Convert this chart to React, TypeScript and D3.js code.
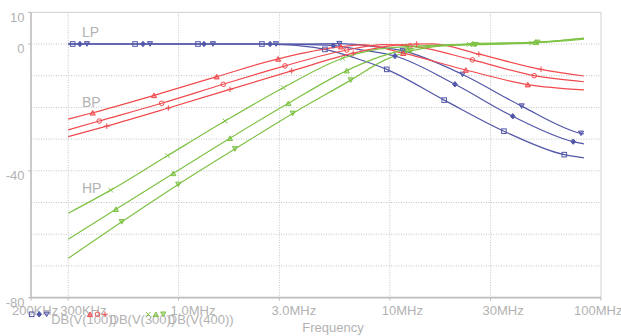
import React from 'react';
import * as d3 from 'd3';

// Axis ticks
const X_TICKS = [0.2, 0.3, 1, 3, 10, 30, 100];
const X_LABELS = ['200KHz', '300KHz', '1.0MHz', '3.0MHz', '10MHz', '30MHz', '100MHz'];
const X_GRID = [0.3, 1, 3, 10, 30];
const Y_GRID = [0, -10, -20, -30, -40, -50, -60, -70];
const Y_TICKS = [10, 0, -40, -80];
const Y_LABELS = ['10', '0', '-40', '-80'];

// DB(V(100)) — low pass, three runs [MHz, dB]
const LP_RUN1: [number, number][] = [[0.3, 0], [0.62, 0], [1.24, 0], [2.48, 0], [3.0, -0.2], [3.76, -0.6], [4.93, -1.7], [6.84, -4.4], [9.67, -8.0], [18.1, -17.7], [34.7, -27.5], [67, -34.9], [83, -35.9]];
const LP_RUN2: [number, number][] = [[0.3, 0], [2.48, 0], [3.76, -0.1], [5.4, -0.5], [7.23, -1.8], [10.58, -3.8], [20.35, -12.7], [38.2, -22.8], [73.9, -30.8], [83, -31.5]];
const LP_RUN3: [number, number][] = [[0.3, 0], [3.76, 0], [5.77, 0.1], [8.0, -0.6], [11.5, -2.1], [22.1, -9.6], [42.1, -19.6], [80.4, -28.2], [83, -28.4]];

// DB(V(300)) — band pass
const BP_RUN1: [number, number][] = [[0.3, -23.7], [0.392, -21.7], [0.765, -16.2], [1.514, -10.3], [2.96, -4.7], [5.87, -0.85], [7.5, -0.25], [11.58, -2.9], [22.9, -8.2], [45, -12.8], [83, -14.5]];
const BP_RUN2: [number, number][] = [[0.3, -27.1], [0.421, -24.3], [0.831, -18.7], [1.627, -12.7], [3.19, -6.9], [6.25, -1.9], [9.3, -0.2], [12.46, -0.6], [24.6, -5.0], [48.3, -10.0], [83, -11.9]];
const BP_RUN3: [number, number][] = [[0.3, -29.2], [0.457, -25.9], [0.894, -20.2], [1.751, -14.3], [3.43, -8.5], [6.71, -2.9], [10, -0.6], [13.4, 0], [16, 0.05], [26.4, -3.2], [52, -8.0], [83, -10.1]];

// DB(V(400)) — high pass
const HP_RUN1: [number, number][] = [[0.3, -53.4], [0.477, -46.1], [0.888, -35.2], [1.658, -24.3], [3.13, -13.8], [5.98, -4.5], [8.5, -1.8], [11.93, -0.85], [23.8, -0.1], [47, 0.3], [83, 1.5]];
const HP_RUN2: [number, number][] = [[0.3, -61.6], [0.505, -52.1], [0.944, -40.8], [1.751, -29.7], [3.31, -18.7], [6.25, -8.4], [9, -4.0], [12.19, -1.6], [18, -0.4], [24.7, 0.1], [49.2, 0.6], [83, 1.8]];
const HP_RUN3: [number, number][] = [[0.3, -67.6], [0.538, -56.1], [0.996, -44.3], [1.849, -33.1], [3.47, -21.9], [6.53, -11.4], [9.5, -5.0], [12.56, -2.2], [18, -0.6], [26, -0.2], [50, 0.5], [83, 1.9]];

// Marker frequencies (MHz) along each run
const LP_MARKS1 = [0.315, 0.622, 1.235, 2.48, 4.93, 9.67, 18.1, 34.7, 67.0];
const LP_MARKS2 = [0.341, 0.678, 1.319, 2.71, 5.4, 10.58, 20.35, 38.2, 73.9];
const LP_MARKS3 = [0.368, 0.732, 1.454, 2.89, 5.77, 11.5, 22.1, 42.1, 80.4];
const BP_MARKS1 = [0.392, 0.765, 1.514, 2.96, 5.87, 11.58, 22.9, 45.0];
const BP_MARKS2 = [0.421, 0.831, 1.627, 3.19, 6.25, 12.46, 24.6, 48.3];
const BP_MARKS3 = [0.457, 0.894, 1.751, 3.43, 6.71, 13.4, 26.4, 52.0];
const HP_MARKS1 = [0.477, 0.888, 1.658, 3.13, 5.98, 11.93, 23.8, 47.0];
const HP_MARKS2 = [0.505, 0.944, 1.751, 3.31, 6.25, 12.19, 24.7, 49.2];
const HP_MARKS3 = [0.538, 0.996, 1.849, 3.47, 6.53, 12.56, 25.5, 50.0];

const LEGEND_NAMES = ['DB(V(100))', 'DB(V(300))', 'DB(V(400))'];
const CURVE_LABELS = ['LP', 'BP', 'HP'];
const CURVE_LABEL_DB = [2.3, -20, -47];

const BLUE = '#5256a8';
const RED = '#f04a4e';
const GREEN = '#7ec244';
const GRAY = '#b2b2b2';
const FONT = '"Liberation Sans", Arial, sans-serif';

type Shape = 'square' | 'diamond' | 'tdown' | 'tup' | 'circle' | 'plus' | 'x';

const groups = [
  { color: BLUE, runs: [LP_RUN1, LP_RUN2, LP_RUN3], marks: [LP_MARKS1, LP_MARKS2, LP_MARKS3], shapes: ['square', 'diamond', 'tdown'] as Shape[] },
  { color: RED, runs: [BP_RUN1, BP_RUN2, BP_RUN3], marks: [BP_MARKS1, BP_MARKS2, BP_MARKS3], shapes: ['tup', 'circle', 'plus'] as Shape[] },
  { color: GREEN, runs: [HP_RUN1, HP_RUN2, HP_RUN3], marks: [HP_MARKS1, HP_MARKS2, HP_MARKS3], shapes: ['x', 'tup', 'tdown'] as Shape[] },
];

function Marker({ shape, cx, cy, color }: { shape: Shape; cx: number; cy: number; color: string }) {
  const r = 2.3;
  const common = { stroke: color, strokeWidth: 1, fill: 'none' };
  switch (shape) {
    case 'square':
      return <rect x={cx - r} y={cy - r} width={2 * r} height={2 * r} {...common} />;
    case 'diamond':
      return <path d={`M${cx},${cy - r - 0.4}L${cx + r},${cy}L${cx},${cy + r + 0.4}L${cx - r},${cy}Z`} stroke={color} strokeWidth={1} fill={color} />;
    case 'tdown':
      return <path d={`M${cx - r - 0.3},${cy - r}L${cx + r + 0.3},${cy - r}L${cx},${cy + r}Z`} stroke={color} strokeWidth={1} fill={color} fillOpacity={0.5} />;
    case 'tup':
      return <path d={`M${cx - r - 0.3},${cy + r}L${cx + r + 0.3},${cy + r}L${cx},${cy - r}Z`} stroke={color} strokeWidth={1} fill={color} fillOpacity={0.5} />;
    case 'circle':
      return <circle cx={cx} cy={cy} r={r} {...common} />;
    case 'plus':
      return <path d={`M${cx - r - 0.5},${cy}H${cx + r + 0.5}M${cx},${cy - r - 0.5}V${cy + r + 0.5}`} {...common} />;
    case 'x':
      return <path d={`M${cx - r},${cy - r}L${cx + r},${cy + r}M${cx + r},${cy - r}L${cx - r},${cy + r}`} {...common} />;
  }
  return null;
}

export default function App() {
  const W = 621, H = 336;
  const left = 31, right = 601, top = 12.3, bottom = 297.6;
  const x = d3.scaleLog().domain([0.2, 100]).range([left, right]);
  const y = d3.scaleLinear().domain([-80, 10]).range([bottom, top]);
  const line = d3.line<[number, number]>().x(d => x(d[0])).y(d => y(d[1])).curve(d3.curveMonotoneX);

  const labelDx = (i: number) => (i === 0 ? -19 : i === X_TICKS.length - 1 ? -27 : -8);

  return (
    <div style={{ position: 'absolute', left: 0, top: 0 }}>
      <svg width={W} height={H} style={{ display: 'block', background: '#fff' }} fontFamily={FONT}>
        {/* grid */}
        {Y_GRID.map(v => (
          <line key={'gy' + v} x1={left} x2={right} y1={y(v)} y2={y(v)} stroke="#c4c4c4" strokeWidth={1} strokeDasharray="1,1.5" />
        ))}
        {X_GRID.map(v => (
          <line key={'gx' + v} x1={x(v)} x2={x(v)} y1={top} y2={bottom} stroke="#c4c4c4" strokeWidth={1} strokeDasharray="1,1.5" />
        ))}
        {/* frame */}
        <line x1={left} x2={right} y1={top} y2={top} stroke="#cfcfcf" strokeWidth={1} />
        <line x1={right} x2={right} y1={top} y2={bottom} stroke="#cfcfcf" strokeWidth={1} />
        <line x1={left} x2={left} y1={top} y2={bottom + 1} stroke="#bdbdbd" strokeWidth={1.6} />
        <line x1={left} x2={right} y1={bottom} y2={bottom} stroke="#bdbdbd" strokeWidth={1.6} />
        {Y_TICKS.map(v => (
          <line key={'ty' + v} x1={left - 3} x2={left} y1={y(v)} y2={y(v)} stroke="#bdbdbd" strokeWidth={1} />
        ))}
        {X_TICKS.map(v => (
          <line key={'tx' + v} x1={x(v)} x2={x(v)} y1={bottom} y2={bottom + 3} stroke="#bdbdbd" strokeWidth={1} />
        ))}
        {/* y labels */}
        {Y_TICKS.map((v, i) => (
          <text key={'ly' + v} x={24.5} y={y(v) + 9.3} textAnchor="end" fontSize={13} fill={GRAY}>{Y_LABELS[i]}</text>
        ))}
        {/* x labels */}
        {X_TICKS.map((v, i) => (
          <text key={'lx' + v} x={x(v) + labelDx(i)} y={315} fontSize={13} fill={GRAY}>{X_LABELS[i]}</text>
        ))}
        <text x={(left + right) / 2 + 17} y={331.5} textAnchor="middle" fontSize={13} fill={GRAY}>Frequency</text>

        {/* curves */}
        {groups.map((g, gi) => (
          <g key={'g' + gi}>
            {g.runs.map((run, ri) => (
              <path key={'p' + ri} d={line(run) || ''} fill="none" stroke={g.color} strokeWidth={1.2} />
            ))}
          </g>
        ))}
        {groups.map((g, gi) => (
          <g key={'m' + gi}>
            {g.runs.map((run, ri) => {
              const interp = d3.scaleLinear().domain(run.map(p => Math.log10(p[0]))).range(run.map(p => p[1]));
              return g.marks[ri].map((f, k) => (
                <Marker key={ri + '-' + k} shape={g.shapes[ri]} cx={x(f)} cy={y(interp(Math.log10(f)))} color={g.color} />
              ));
            })}
          </g>
        ))}

        {/* curve labels */}
        {CURVE_LABELS.map((t, i) => (
          <text key={t} x={82} y={y(CURVE_LABEL_DB[i])} fontSize={14} fill={GRAY}>{t}</text>
        ))}

        {/* legend */}
        {groups.map((g, gi) => {
          const x0 = 31.7 + gi * 58.3;
          return (
            <g key={'lg' + gi}>
              {g.shapes.map((s, si) => (
                <Marker key={si} shape={s} cx={x0 + si * 7.5} cy={314.3} color={g.color} />
              ))}
              <text x={x0 + 19.5} y={323.5} fontSize={13} fill={GRAY}>{LEGEND_NAMES[gi]}</text>
            </g>
          );
        })}
      </svg>
    </div>
  );
}
